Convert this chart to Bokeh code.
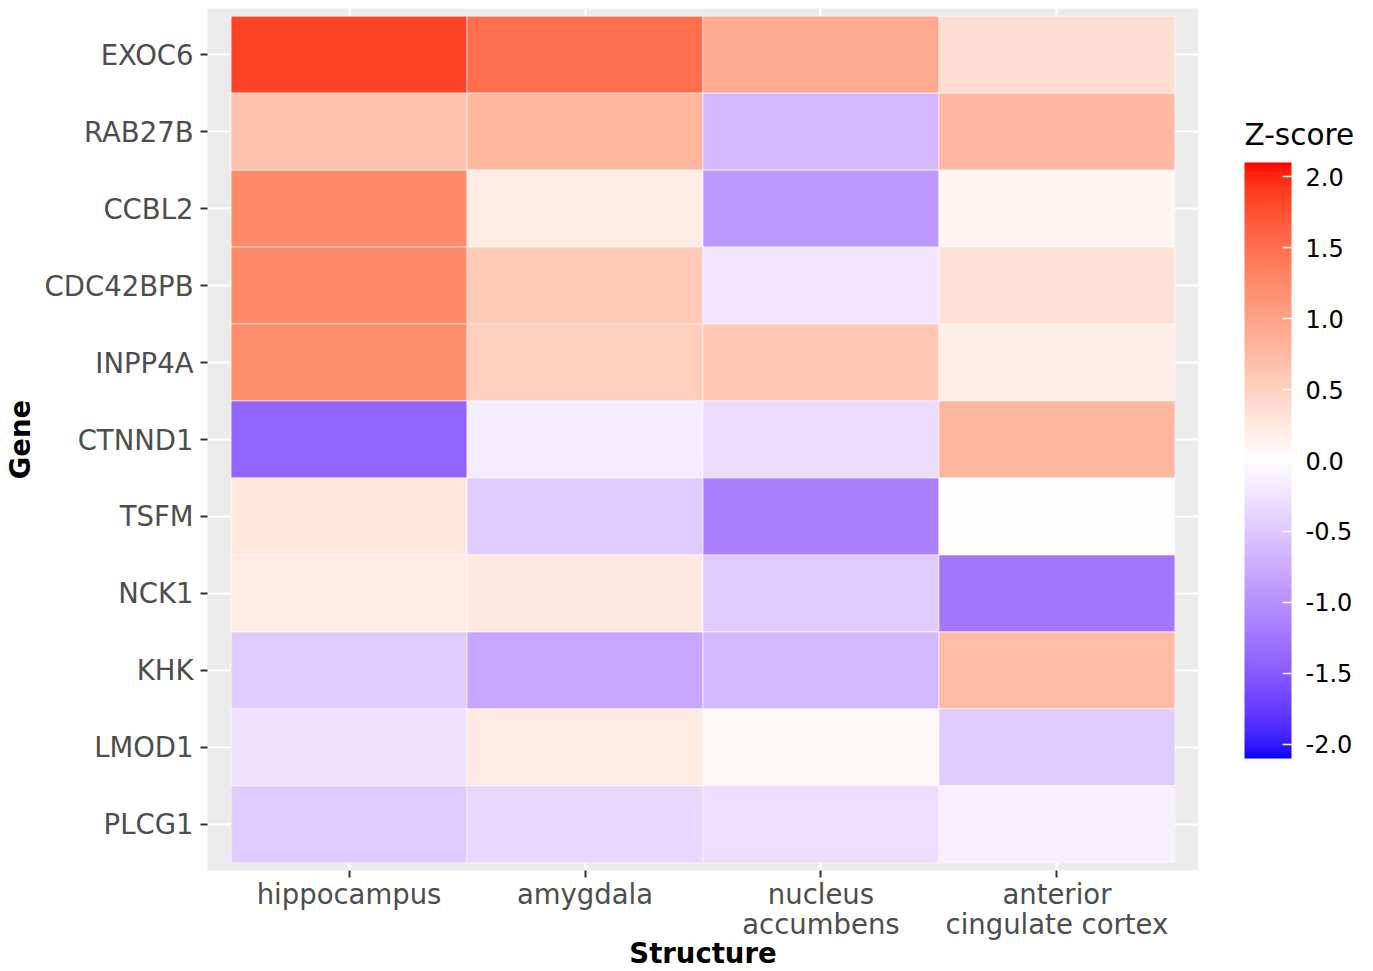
import numpy as np
from bokeh.plotting import figure
from bokeh.layouts import row
from bokeh.models import (ColumnDataSource, LinearColorMapper, ColorBar,
                          FixedTicker, PrintfTickFormatter, FactorRange, Label, Range1d)
from bokeh.embed import file_html
from bokeh.resources import INLINE

# ---------------- data ----------------
structures = ["hippocampus", "amygdala", "nucleus\naccumbens", "anterior\ncingulate cortex"]
genes = ["EXOC6", "RAB27B", "CCBL2", "CDC42BPB", "INPP4A", "CTNND1",
         "TSFM", "NCK1", "KHK", "LMOD1", "PLCG1"]

hippocampus = [1.85, 0.64, 1.24, 1.24, 1.22, -1.40, 0.27, 0.22, -0.47, -0.25, -0.46]
amygdala = [1.50, 0.78, 0.20, 0.58, 0.55, -0.18, -0.46, 0.25, -0.80, 0.24, -0.36]
nucleus_accumbens = [0.92, -0.63, -0.92, -0.24, 0.62, -0.32, -1.15, -0.47, -0.63, 0.05, -0.30]
anterior_cingulate = [0.37, 0.77, 0.13, 0.34, 0.19, 0.79, 0.00, -1.22, 0.71, -0.45, -0.12]

z_low, z_high = -2.1, 2.1
colorbar_ticks = [-2.0, -1.5, -1.0, -0.5, 0.0, 0.5, 1.0, 1.5, 2.0]
legend_title = "Z-score"

# ---------------- Lab diverging palette (blue - white - red) ----------------
def _to_lin(c):
    c = c / 255.0
    return np.where(c <= 0.04045, c / 12.92, ((c + 0.055) / 1.055) ** 2.4)

def _from_lin(c):
    c = np.clip(c, 0, 1)
    v = np.where(c <= 0.0031308, 12.92 * c, 1.055 * c ** (1 / 2.4) - 0.055)
    return np.clip(np.round(v * 255), 0, 255).astype(int)

WHITE_REF = np.array([0.95047, 1.0, 1.08883])
M = np.array([[0.4124, 0.3576, 0.1805], [0.2126, 0.7152, 0.0722], [0.0193, 0.1192, 0.9505]])
MI = np.linalg.inv(M)

def rgb_to_lab(rgb):
    xyz = M @ _to_lin(np.array(rgb, float)) / WHITE_REF
    f = np.where(xyz > 0.008856, np.cbrt(xyz), 7.787 * xyz + 16 / 116)
    return np.array([116 * f[1] - 16, 500 * (f[0] - f[1]), 200 * (f[1] - f[2])])

def lab_to_hex(lab):
    L, a, b = lab
    fy = (L + 16) / 116
    fx = fy + a / 500
    fz = fy - b / 200
    f = np.array([fx, fy, fz])
    xyz = np.where(f ** 3 > 0.008856, f ** 3, (f - 16 / 116) / 7.787) * WHITE_REF
    rgb = _from_lin(MI @ xyz)
    return "#%02x%02x%02x" % tuple(rgb)

lab_blue = rgb_to_lab([0, 0, 255])
lab_white = rgb_to_lab([255, 255, 255])
lab_red = rgb_to_lab([255, 0, 0])
palette = []
for v in np.linspace(z_low, z_high, 256):
    if v < 0:
        t = v / z_low
        palette.append(lab_to_hex(lab_white + (lab_blue - lab_white) * t))
    else:
        t = v / z_high
        palette.append(lab_to_hex(lab_white + (lab_red - lab_white) * t))

mapper = LinearColorMapper(palette=palette, low=z_low, high=z_high)

# ---------------- table ----------------
cols = [hippocampus, amygdala, nucleus_accumbens, anterior_cingulate]
xs, ys, zs = [], [], []
for s, col in zip(structures, cols):
    for g, z in zip(genes, col):
        xs.append(s)
        ys.append(g)
        zs.append(z)
src = ColumnDataSource(dict(structure=xs, gene=ys, z=zs))

FONT = "DejaVu Sans"

p = figure(
    width=1198, height=971,
    x_range=FactorRange(factors=structures, range_padding=0.1, range_padding_units="absolute"),
    y_range=FactorRange(factors=list(reversed(genes)), range_padding=0.1, range_padding_units="absolute"),
    output_backend="svg", toolbar_location=None,
    min_border_left=200, min_border_right=0, min_border_top=8, min_border_bottom=93,
)
p.outline_line_color = None
p.background_fill_color = "#EBEBEB"
p.border_fill_color = "white"

p.rect(x="structure", y="gene", width=1, height=1, source=src,
       fill_color={"field": "z", "transform": mapper},
       line_color="white", line_width=0.6)

p.grid.grid_line_color = "white"
p.grid.grid_line_width = 2.2

for ax in (p.xaxis[0], p.yaxis[0]):
    ax.axis_line_color = None
    ax.major_tick_line_color = "#333333"
    ax.major_tick_line_width = 2
    ax.major_tick_out = 7
    ax.major_tick_in = 0
    ax.minor_tick_line_color = None
    ax.major_label_text_font = FONT
    ax.major_label_text_font_size = "27.5px"
    ax.major_label_text_color = "#4D4D4D"
    ax.major_label_text_line_height = 0.95
    ax.axis_label_text_font = FONT
    ax.axis_label_text_font_size = "27.5px"
    ax.axis_label_text_font_style = "bold"
    ax.axis_label_text_color = "black"
    ax.axis_label_text_line_height = 0.7

p.xaxis.axis_label = "Structure"
p.yaxis.axis_label = "Gene"
p.xaxis.major_label_standoff = 0
p.xaxis.axis_label_standoff = -6
p.yaxis.major_label_standoff = 7
p.yaxis.axis_label_standoff = 6

# ---------------- legend panel ----------------
lg = figure(width=175, height=971, output_backend="svg", toolbar_location=None,
            x_range=Range1d(0, 1), y_range=Range1d(0, 1),
            x_axis_location=None, y_axis_location=None,
            min_border_left=0, min_border_right=0, min_border_top=0, min_border_bottom=0)
lg.outline_line_color = None
lg.grid.visible = False
lg.background_fill_color = "white"
lg.border_fill_color = "white"

cb = ColorBar(
    color_mapper=mapper,
    ticker=FixedTicker(ticks=colorbar_ticks),
    formatter=PrintfTickFormatter(format="%.1f"),
    width=47, height=596,
    major_label_text_font=FONT, major_label_text_font_size="24px",
    major_label_text_color="black",
    label_standoff=14,
    major_tick_line_color="white", major_tick_line_width=1.5,
    major_tick_in=9, major_tick_out=0,
    bar_line_color=None, border_line_color=None,
    background_fill_color=None,
    padding=10, margin=0,
    location=(36, 102),
)
lg.add_layout(cb)

title = Label(x=46, y=736, x_units="screen", y_units="screen",
              text=legend_title, text_font=FONT, text_font_size="29.5px",
              text_color="black", text_baseline="alphabetic", text_align="left")
lg.add_layout(title)

layout = row(p, lg)
open("out.html", "w").write(file_html(layout, INLINE))
